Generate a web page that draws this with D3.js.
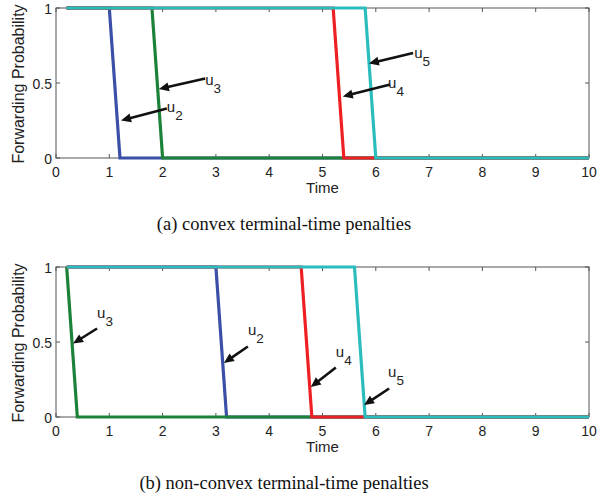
<!DOCTYPE html>
<html>
<head>
<meta charset="utf-8">
<script src="https://cdn.jsdelivr.net/npm/d3@7"></script>
<style>
  html, body { margin: 0; padding: 0; background: #fff; }
  svg { display: block; }
</style>
</head>
<body>
<svg id="chart" width="597" height="497"></svg>
<script>
// ---------- data ----------
const timeTicks = [0, 1, 2, 3, 4, 5, 6, 7, 8, 9, 10];
const probTicks = [0, 0.5, 1];
const probTickLabels = ["0", "0.5", "1"];
const seriesNames = ["u2", "u3", "u4", "u5"];

// (a) convex terminal-time penalties: [time, forwarding probability]
const convexU2 = [[0.2, 1], [1.0, 1], [1.2, 0], [10, 0]];
const convexU3 = [[0.2, 1], [1.8, 1], [2.0, 0], [10, 0]];
const convexU4 = [[0.2, 1], [5.2, 1], [5.4, 0], [10, 0]];
const convexU5 = [[0.2, 1], [5.8, 1], [6.0, 0], [10, 0]];

// (b) non-convex terminal-time penalties
const nonconvexU2 = [[0.2, 1], [3.0, 1], [3.2, 0], [10, 0]];
const nonconvexU3 = [[0.2, 1], [0.2, 1], [0.4, 0], [10, 0]];
const nonconvexU4 = [[0.2, 1], [4.6, 1], [4.8, 0], [10, 0]];
const nonconvexU5 = [[0.2, 1], [5.6, 1], [5.8, 0], [10, 0]];

// annotations: label, subscript, label anchor, arrow tail, arrow head (data coords)
const convexNotes = [
  { u: "u", sub: "3", label: [2.80, 0.49], tail: [2.80, 0.53], head: [1.93, 0.46] },
  { u: "u", sub: "2", label: [2.08, 0.31], tail: [2.08, 0.33], head: [1.22, 0.25] },
  { u: "u", sub: "5", label: [6.72, 0.67], tail: [6.70, 0.70], head: [5.87, 0.63] },
  { u: "u", sub: "4", label: [6.23, 0.47], tail: [6.27, 0.49], head: [5.38, 0.41] }
];
const nonconvexNotes = [
  { u: "u", sub: "3", label: [0.77, 0.66], tail: [0.77, 0.59], head: [0.32, 0.49] },
  { u: "u", sub: "2", label: [3.60, 0.55], tail: [3.60, 0.47], head: [3.15, 0.36] },
  { u: "u", sub: "4", label: [5.25, 0.40], tail: [5.25, 0.33], head: [4.78, 0.20] },
  { u: "u", sub: "5", label: [6.23, 0.27], tail: [6.25, 0.19], head: [5.78, 0.08] }
];

const captions = ["(a) convex terminal-time penalties", "(b) non-convex terminal-time penalties"];
const xLabel = "Time";
const yLabel = "Forwarding Probability";

// ---------- styles ----------
const colors = { u2: "#3b4fa6", u3: "#1c8139", u4: "#ee2024", u5: "#2bbcbd" };
const sansFont = "'Liberation Sans', Arial, Helvetica, sans-serif";
const serifFont = "'Liberation Serif', 'Times New Roman', serif";

const svg = d3.select("#chart");
const x = d3.scaleLinear().domain([0, 10]).range([56, 589]);

function drawPanel(top, seriesData, notes, caption) {
  const y = d3.scaleLinear().domain([0, 1]).range([top + 150, top]);
  const g = svg.append("g");
  const x0 = x.range()[0], x1 = x.range()[1];
  const yb = y(0), yt = y(1);

  // frame
  g.append("rect")
    .attr("x", x0).attr("y", yt).attr("width", x1 - x0).attr("height", yb - yt)
    .attr("fill", "none").attr("stroke", "#555").attr("stroke-width", 1);

  // ticks (inward on all four sides)
  const tl = 4;
  g.selectAll(".xtb").data(timeTicks).enter().append("line")
    .attr("x1", d => x(d)).attr("x2", d => x(d))
    .attr("y1", yb).attr("y2", yb - tl).attr("stroke", "#555");
  g.selectAll(".xtt").data(timeTicks).enter().append("line")
    .attr("x1", d => x(d)).attr("x2", d => x(d))
    .attr("y1", yt).attr("y2", yt + tl).attr("stroke", "#555");
  g.selectAll(".ytl").data(probTicks).enter().append("line")
    .attr("x1", x0).attr("x2", x0 + tl)
    .attr("y1", d => y(d)).attr("y2", d => y(d)).attr("stroke", "#555");
  g.selectAll(".ytr").data(probTicks).enter().append("line")
    .attr("x1", x1).attr("x2", x1 - tl)
    .attr("y1", d => y(d)).attr("y2", d => y(d)).attr("stroke", "#555");

  // tick labels
  g.selectAll(".xl").data(timeTicks).enter().append("text")
    .attr("x", d => x(d)).attr("y", yb + 19)
    .attr("text-anchor", "middle")
    .attr("font-family", sansFont).attr("font-size", 14).attr("fill", "#222")
    .text(d => d);
  g.selectAll(".yl").data(probTicks).enter().append("text")
    .attr("x", x0 - 4).attr("y", d => y(d) + 6)
    .attr("text-anchor", "end")
    .attr("font-family", sansFont).attr("font-size", 14).attr("fill", "#222")
    .text((d, i) => probTickLabels[i]);

  // axis labels
  g.append("text")
    .attr("x", x(5)).attr("y", yb + 35)
    .attr("text-anchor", "middle")
    .attr("font-family", sansFont).attr("font-size", 15).attr("fill", "#222")
    .text(xLabel);
  g.append("text")
    .attr("transform", `translate(24,${(yt + yb) / 2 + 1}) rotate(-90)`)
    .attr("text-anchor", "middle")
    .attr("font-family", sansFont).attr("font-size", 16).attr("fill", "#222")
    .text(yLabel);

  // series
  const line = d3.line().x(d => x(d[0])).y(d => y(d[1]));
  seriesNames.forEach((name, i) => {
    g.append("path")
      .datum(seriesData[i])
      .attr("d", line)
      .attr("fill", "none")
      .attr("stroke", colors[name])
      .attr("stroke-width", 3.2)
      .attr("stroke-linejoin", "miter");
  });

  // annotations
  notes.forEach(n => {
    const tx = x(n.tail[0]), ty = y(n.tail[1]);
    const hx = x(n.head[0]), hy = y(n.head[1]);
    const dx = hx - tx, dy = hy - ty, len = Math.hypot(dx, dy);
    const ux = dx / len, uy = dy / len;
    const hl = 10, hw = 4.5;
    const bx = hx - ux * hl, by = hy - uy * hl;
    g.append("line")
      .attr("x1", tx).attr("y1", ty).attr("x2", bx + ux).attr("y2", by + uy)
      .attr("stroke", "#111").attr("stroke-width", 2.6);
    g.append("path")
      .attr("d", `M${hx},${hy}L${bx - uy * hw},${by + ux * hw}L${bx + uy * hw},${by - ux * hw}Z`)
      .attr("fill", "#111");
    const t = g.append("text")
      .attr("x", x(n.label[0])).attr("y", y(n.label[1]))
      .attr("font-family", sansFont).attr("font-size", 15).attr("fill", "#222");
    t.append("tspan").text(n.u);
    t.append("tspan").attr("dy", 8).attr("font-size", 13.5).text(n.sub);
  });

  // caption
  svg.append("text")
    .attr("x", 284).attr("y", yb + 72)
    .attr("text-anchor", "middle")
    .attr("font-family", serifFont).attr("font-size", 18.5).attr("fill", "#111")
    .text(caption);
}

drawPanel(8, [convexU2, convexU3, convexU4, convexU5], convexNotes, captions[0]);
drawPanel(267, [nonconvexU2, nonconvexU3, nonconvexU4, nonconvexU5], nonconvexNotes, captions[1]);
</script>
</body>
</html>
